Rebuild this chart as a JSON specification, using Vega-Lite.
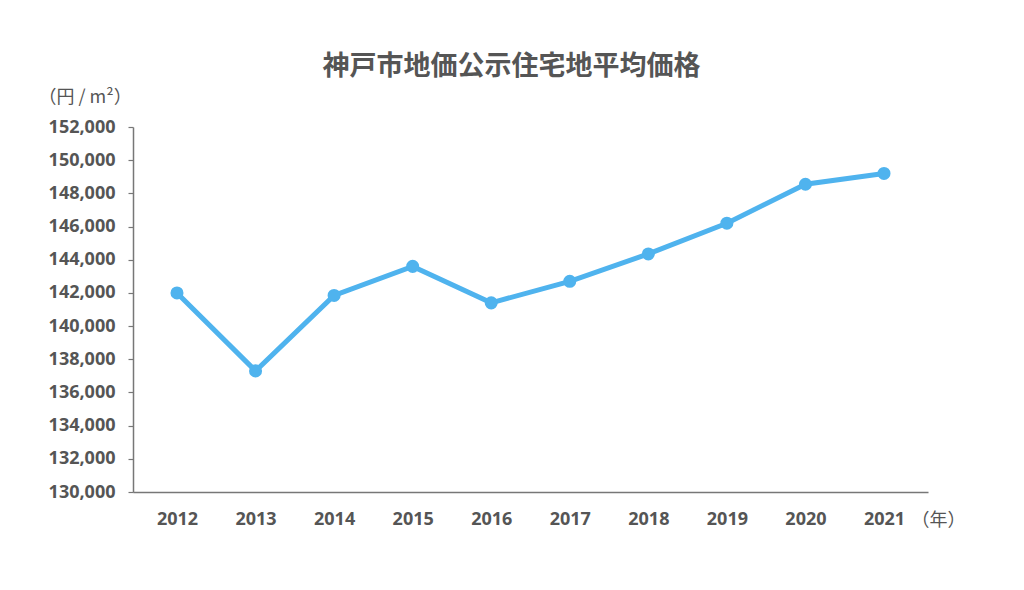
{
  "$schema": "https://vega.github.io/schema/vega-lite/v6.json",
  "width": 795,
  "height": 365,
  "autosize": {"type": "none"},
  "padding": {"left": 133, "top": 127, "right": 96, "bottom": 98},
  "background": "white",
  "title": {
    "text": "神戸市地価公示住宅地平均価格",
    "font": "Noto Sans CJK JP",
    "fontSize": 27,
    "fontWeight": "bold",
    "color": "#555555",
    "anchor": "middle",
    "dx": -19,
    "offset": 7
  },
  "data": {
    "values": [
      {"year": "2012", "price": 142000},
      {"year": "2013", "price": 137300},
      {"year": "2014", "price": 141850},
      {"year": "2015", "price": 143600},
      {"year": "2016", "price": 141400},
      {"year": "2017", "price": 142700},
      {"year": "2018", "price": 144350},
      {"year": "2019", "price": 146200},
      {"year": "2020", "price": 148550},
      {"year": "2021", "price": 149200}
    ]
  },
  "config": {
    "view": {"stroke": null},
    "axis": {
      "labelFont": "Open Sans",
      "labelFontWeight": "bold",
      "labelColor": "#555555",
      "domainColor": "#777777",
      "tickColor": "#777777",
      "domainWidth": 1.5,
      "tickWidth": 1.2,
      "grid": false,
      "titleFont": "Noto Sans CJK JP",
      "titleColor": "#555555",
      "titleFontWeight": "normal"
    }
  },
  "encoding": {
    "x": {
      "field": "year",
      "type": "ordinal",
      "scale": {"type": "point", "padding": 0.56},
      "axis": {
        "labelAngle": 0,
        "ticks": false,
        "labelFontSize": 18,
        "labelPadding": 18,
        "title": "（年）",
        "titleFontSize": 18,
        "titleAngle": 0,
        "titleAlign": "left",
        "titleBaseline": "middle",
        "titleX": 778,
        "titleY": 28
      }
    },
    "y": {
      "field": "price",
      "type": "quantitative",
      "scale": {"domain": [130000, 152000], "nice": false, "zero": false},
      "axis": {
        "values": [130000, 132000, 134000, 136000, 138000, 140000, 142000, 144000, 146000, 148000, 150000, 152000],
        "format": ",d",
        "tickSize": 5,
        "labelFontSize": 18,
        "labelPadding": 13,
        "title": "（円 / m²）",
        "titleFontSize": 18,
        "titleAngle": 0,
        "titleAlign": "left",
        "titleBaseline": "middle",
        "titleX": -95,
        "titleY": -30
      }
    }
  },
  "layer": [
    {
      "mark": {"type": "line", "color": "#4fb3ee", "strokeWidth": 5}
    },
    {
      "mark": {"type": "point", "filled": true, "color": "#4fb3ee", "opacity": 1, "size": 170}
    }
  ]
}
